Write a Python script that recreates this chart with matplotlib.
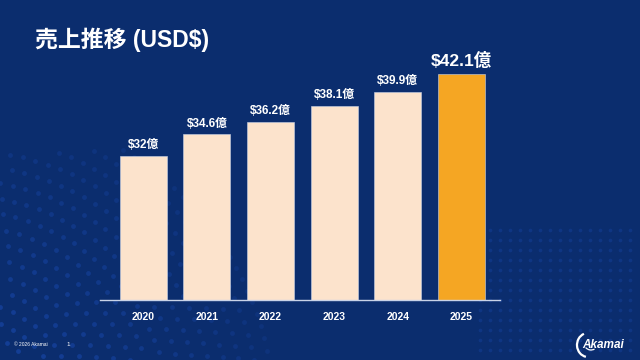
import numpy as np
import matplotlib.pyplot as plt
from matplotlib.patches import Arc

plt.rcParams['font.family'] = ['Liberation Sans', 'Noto Sans CJK JP', 'DejaVu Sans']

# データ
years = ['2020', '2021', '2022', '2023', '2024', '2025']
sales = [32, 34.6, 36.2, 38.1, 39.9, 42.1]
labels = ['$32億', '$34.6億', '$36.2億', '$38.1億', '$39.9億', '$42.1億']

bg = '#0b2d6e'
peach = '#fce3cc'
orange = '#f5a623'

fig = plt.figure(figsize=(6.4, 3.6), dpi=100)
fig.patch.set_facecolor(bg)

# 背景のドット模様（装飾）
deco = fig.add_axes([0, 0, 1, 1])
deco.set_xlim(0, 640)
deco.set_ylim(360, 0)
deco.axis('off')
cx, cy = -40, 420
for r in np.arange(60, 330, 15):
    ang = np.linspace(-np.pi / 2 - 0.1, 0.1, int(r / 7))
    px = cx + r * np.cos(ang)
    py = cy + r * np.sin(ang)
    m = (px > 0) & (px < 640) & (py > 150) & (py < 360)
    alpha = np.clip(0.5 - r / 900, 0.08, 0.45)
    deco.scatter(px[m], py[m], s=12, color='#2158d0', alpha=alpha, linewidths=0)
gx, gy = np.meshgrid(np.arange(480, 640, 10), np.arange(230, 360, 10))
deco.scatter(gx.ravel(), gy.ravel(), s=7, color='#2158d0', alpha=0.22, linewidths=0)

# メインの棒グラフ
ax = fig.add_axes([0.156, 0.1667, 0.625, 0.667])
ax.set_facecolor('none')
x = np.arange(len(years))
colors = [peach] * (len(years) - 1) + [orange]
ax.bar(x, sales, width=0.74, bottom=0, color=colors, edgecolor='#c9d3e8', linewidth=0.4, zorder=2)
ax.set_ylim(14.2, 43.8)
ax.set_xlim(-0.684, 5.605)

for i, (v, lab) in enumerate(zip(sales, labels)):
    big = i == len(years) - 1
    ax.text(i, v + 0.6, lab, ha='center', va='bottom', color='white',
            fontsize=12.5 if big else 8.5, fontweight='bold', zorder=3)

for s in ['top', 'right', 'left']:
    ax.spines[s].set_visible(False)
ax.spines['bottom'].set_color('#c9d3e8')
ax.spines['bottom'].set_linewidth(1.0)
ax.set_yticks([])
ax.set_xticks(x)
ax.set_xticklabels(years, color='white', fontsize=7.5, fontweight='bold')
ax.tick_params(axis='x', length=0, pad=9)

# タイトル
fig.text(35 / 640, 1 - 40 / 360, '売上推移 (USD$)', color='white', fontsize=16.5,
         fontweight='bold', ha='left', va='center')

# フッター
fig.text(14 / 640, 1 - 345 / 360, '© 2026 Akamai', color='white', fontsize=3.5,
         ha='left', va='center')
fig.text(66 / 640, 1 - 344 / 360, '1', color='white', fontsize=4.5, ha='left', va='center')

# ロゴ
fig.text(582 / 640, 1 - 345 / 360, 'Akamai', color='white', fontsize=8.5,
         fontweight='bold', style='italic', ha='left', va='center')
deco.add_patch(Arc((588, 345), 22, 24, theta1=100, theta2=250, color='white', lw=1.6))
deco.add_patch(Arc((591, 343), 14, 14, theta1=60, theta2=140, color='white', lw=0.9))

fig.savefig('out.png', dpi=100, facecolor=bg)
